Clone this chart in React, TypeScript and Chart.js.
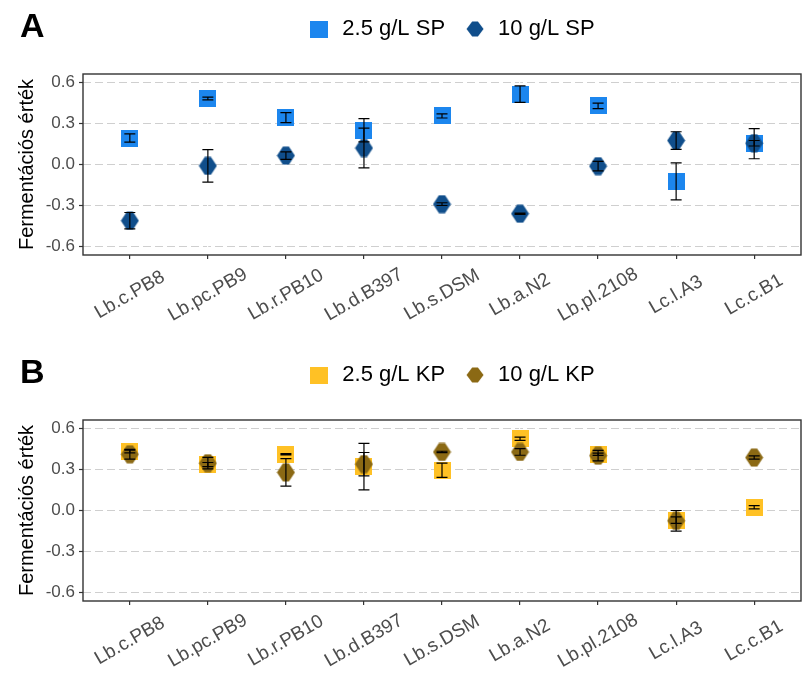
import React, { useEffect, useRef } from 'react';
import { Chart, registerables } from 'chart.js';

Chart.register(...registerables);

// ---------- data ----------
const categories = [
  'Lb.c.PB8', 'Lb.pc.PB9', 'Lb.r.PB10', 'Lb.d.B397', 'Lb.s.DSM',
  'Lb.a.N2', 'Lb.pl.2108', 'Lc.l.A3', 'Lc.c.B1',
];
const yTickValues = [-0.6, -0.3, 0.0, 0.3, 0.6];

// Panel A (SP)
const spLowLabel = '2.5 g/L SP';
const spHighLabel = '10 g/L SP';
const spLow = [0.193, 0.482, 0.342, 0.25, 0.354, 0.513, 0.427, -0.123, 0.152];
const spLowErr = [0.03, 0.01, 0.036, 0.085, 0.015, 0.06, 0.02, 0.135, 0.11];
const spHigh = [-0.41, -0.01, 0.065, 0.12, -0.289, -0.359, -0.012, 0.175, 0.155];
const spHighErr = [0.06, 0.118, 0.027, 0.145, 0.01, 0.005, 0.035, 0.064, 0.02];

// Panel B (KP)
const kpLowLabel = '2.5 g/L KP';
const kpHighLabel = '10 g/L KP';
const kpLow = [0.43, 0.335, 0.41, 0.32, 0.293, 0.523, 0.41, -0.07, 0.024];
const kpLowErr = [0.01, 0.015, 0.005, 0.17, 0.052, 0.012, 0.008, 0.024, 0.012];
const kpHigh = [0.41, 0.345, 0.278, 0.338, 0.427, 0.427, 0.4, -0.075, 0.386];
const kpHighErr = [0.036, 0.042, 0.1, 0.085, 0.005, 0.024, 0.038, 0.075, 0.012];

const yTitle = 'Fermentációs érték';

// ---------- styling ----------
const FONT = '"Liberation Sans", Arial, Helvetica, sans-serif';
const W = 810;

function makeSquare(w: number, h: number, color: string) {
  const c = document.createElement('canvas');
  c.width = w;
  c.height = h;
  const ctx = c.getContext('2d')!;
  ctx.fillStyle = color;
  ctx.fillRect(0, 0, w, h);
  return c;
}

function makeHex(w: number, h: number, color: string) {
  const c = document.createElement('canvas');
  c.width = w;
  c.height = h;
  const ctx = c.getContext('2d')!;
  ctx.fillStyle = color;
  ctx.beginPath();
  ctx.moveTo(0.5, h / 2);
  ctx.lineTo(w * 0.34, 0.5);
  ctx.lineTo(w * 0.66, 0.5);
  ctx.lineTo(w - 0.5, h / 2);
  ctx.lineTo(w * 0.66, h - 0.5);
  ctx.lineTo(w * 0.34, h - 0.5);
  ctx.closePath();
  ctx.fill();
  return c;
}

type PanelProps = {
  letter: string;
  lowLabel: string;
  highLabel: string;
  low: number[];
  lowErr: number[];
  high: number[];
  highErr: number[];
  lowColor: string;
  highColor: string;
  height: number;
  top: number;
};

function Panel(p: PanelProps) {
  const ref = useRef<HTMLCanvasElement>(null);

  useEffect(() => {
    if (!ref.current) return;
    const sq = makeSquare(17, 17, p.lowColor);
    const hx = makeHex(19, 19, p.highColor);
    const lsq = makeSquare(18, 17, p.lowColor);
    const lhx = makeHex(18, 16, p.highColor);
    const xAxisHeight = p.height - 255;

    const errorBars = {
      id: 'errorBars',
      afterDatasetsDraw(chart: any) {
        const { ctx, scales } = chart;
        const xs = scales.x;
        const ys = scales.y;
        ctx.save();
        ctx.strokeStyle = '#000000';
        ctx.lineWidth = 1.2;
        const sets = [
          { v: p.low, e: p.lowErr },
          { v: p.high, e: p.highErr },
        ];
        sets.forEach(({ v, e }) => {
          v.forEach((val, i) => {
            const px = xs.getPixelForValue(i);
            const t = ys.getPixelForValue(val + e[i]);
            const b = ys.getPixelForValue(val - e[i]);
            ctx.beginPath();
            ctx.moveTo(px, t);
            ctx.lineTo(px, b);
            ctx.moveTo(px - 5.5, t);
            ctx.lineTo(px + 5.5, t);
            ctx.moveTo(px - 5.5, b);
            ctx.lineTo(px + 5.5, b);
            ctx.stroke();
          });
        });
        ctx.restore();
      },
    };

    const panelBorder = {
      id: 'panelBorder',
      beforeDatasetsDraw(chart: any) {
        const { ctx, chartArea } = chart;
        ctx.save();
        ctx.strokeStyle = '#333333';
        ctx.lineWidth = 1.4;
        ctx.strokeRect(chartArea.left, chartArea.top, chartArea.right - chartArea.left, chartArea.bottom - chartArea.top);
        ctx.restore();
      },
    };

    const panelLetter = {
      id: 'panelLetter',
      afterDraw(chart: any) {
        const { ctx } = chart;
        ctx.save();
        ctx.font = `bold 34px ${FONT}`;
        ctx.fillStyle = '#000000';
        ctx.textAlign = 'left';
        ctx.textBaseline = 'alphabetic';
        ctx.fillText(p.letter, 20, 37);
        ctx.restore();
      },
    };

    const legendSpace = {
      id: 'legendSpace',
      beforeInit(chart: any) {
        const legend = chart.legend;
        if (!legend) return;
        const orig = legend.fit;
        legend.fit = function fit() {
          orig.call(this);
          this.height += 24;
        };
      },
      afterLayout(chart: any) {
        const legend = chart.legend;
        if (!legend) return;
        legend.left += 9;
        legend.right += 9;
      },
    };

    const centerXLabels = {
      id: 'centerXLabels',
      beforeLayout(chart: any) {
        const s = chart.scales.x;
        if (s && !s.__centered) {
          s._getXAxisLabelAlignment = () => 'center';
          s.__centered = true;
        }
      },
    };

    const chart = new Chart(ref.current, {
      type: 'scatter',
      data: {
        datasets: [
          {
            label: p.lowLabel,
            data: p.low.map((y, i) => ({ x: i, y })),
            pointStyle: sq as any,
            pointRadius: 8,
            backgroundColor: p.lowColor,
            borderColor: p.lowColor,
            order: 1,
          },
          {
            label: p.highLabel,
            data: p.high.map((y, i) => ({ x: i, y })),
            pointStyle: hx as any,
            pointRadius: 8,
            backgroundColor: p.highColor,
            borderColor: p.highColor,
            order: 0,
          },
        ],
      },
      options: {
        responsive: false,
        animation: false,
        events: [],
        layout: { padding: { left: 0, right: 2, top: 0, bottom: 0 } },
        plugins: {
          tooltip: { enabled: false },
          title: { display: false },
          legend: {
            display: true,
            position: 'top',
            fullSize: false,
            labels: {
              usePointStyle: true,
              pointStyleWidth: 24,
              padding: 18,
              color: '#000000',
              font: { family: FONT, size: 22 },
              generateLabels: () => [
                { text: p.lowLabel, pointStyle: lsq as any, fillStyle: p.lowColor, strokeStyle: p.lowColor, lineWidth: 0, hidden: false, datasetIndex: 0 },
                { text: p.highLabel, pointStyle: lhx as any, fillStyle: p.highColor, strokeStyle: p.highColor, lineWidth: 0, hidden: false, datasetIndex: 1 },
              ],
            },
          },
        },
        scales: {
          y: {
            type: 'linear',
            min: -0.66,
            max: 0.66,
            afterBuildTicks: (scale: any) => {
              scale.ticks = yTickValues.map((v) => ({ value: v }));
            },
            afterFit: (scale: any) => {
              scale.width = 83;
            },
            ticks: {
              color: '#4D4D4D',
              font: { family: FONT, size: 17 },
              padding: 4,
              callback: (v: any) => Number(v).toFixed(1),
            },
            grid: {
              color: '#CFCFCF',
              lineWidth: 1,
              drawTicks: true,
              tickLength: 4,
              tickColor: '#333333',
              tickWidth: 1.2,
            },
            border: { display: false, dash: [8, 4] },
            title: {
              display: true,
              text: yTitle,
              color: '#000000',
              font: { family: FONT, size: 20 },
              padding: { top: 15, bottom: 0 },
            },
          },
          x: {
            type: 'linear',
            min: -0.6,
            max: 8.6,
            afterBuildTicks: (scale: any) => {
              scale.ticks = categories.map((_, i) => ({ value: i }));
            },
            afterFit: (scale: any) => {
              scale.height = xAxisHeight;
            },
            ticks: {
              autoSkip: false,
              minRotation: 30,
              maxRotation: 30,
              color: '#4D4D4D',
              font: { family: FONT, size: 19 },
              padding: 26,
              callback: (v: any) => categories[Math.round(Number(v))] ?? '',
            },
            grid: {
              color: '#FFFFFF',
              lineWidth: 1.2,
              drawTicks: true,
              tickLength: 4,
              tickColor: '#333333',
              tickWidth: 1.2,
            },
            border: { display: false },
          },
        },
      } as any,
      plugins: [legendSpace, centerXLabels, panelBorder, errorBars, panelLetter],
    });
    return () => chart.destroy();
  }, []);

  return (
    <canvas
      ref={ref}
      width={W}
      height={p.height}
      style={{ position: 'absolute', left: 0, top: p.top, width: W, height: p.height, display: 'block' }}
    />
  );
}

export default function App() {
  return (
    <div style={{ position: 'absolute', left: 0, top: 0, width: 810, height: 674, background: '#FFFFFF' }}>
      <Panel
        letter="A"
        lowLabel={spLowLabel}
        highLabel={spHighLabel}
        low={spLow}
        lowErr={spLowErr}
        high={spHigh}
        highErr={spHighErr}
        lowColor="#1C86EE"
        highColor="#104E8B"
        height={346}
        top={0}
      />
      <Panel
        letter="B"
        lowLabel={kpLowLabel}
        highLabel={kpHighLabel}
        low={kpLow}
        lowErr={kpLowErr}
        high={kpHigh}
        highErr={kpHighErr}
        lowColor="#FFC125"
        highColor="#8B6914"
        height={328}
        top={346}
      />
    </div>
  );
}
